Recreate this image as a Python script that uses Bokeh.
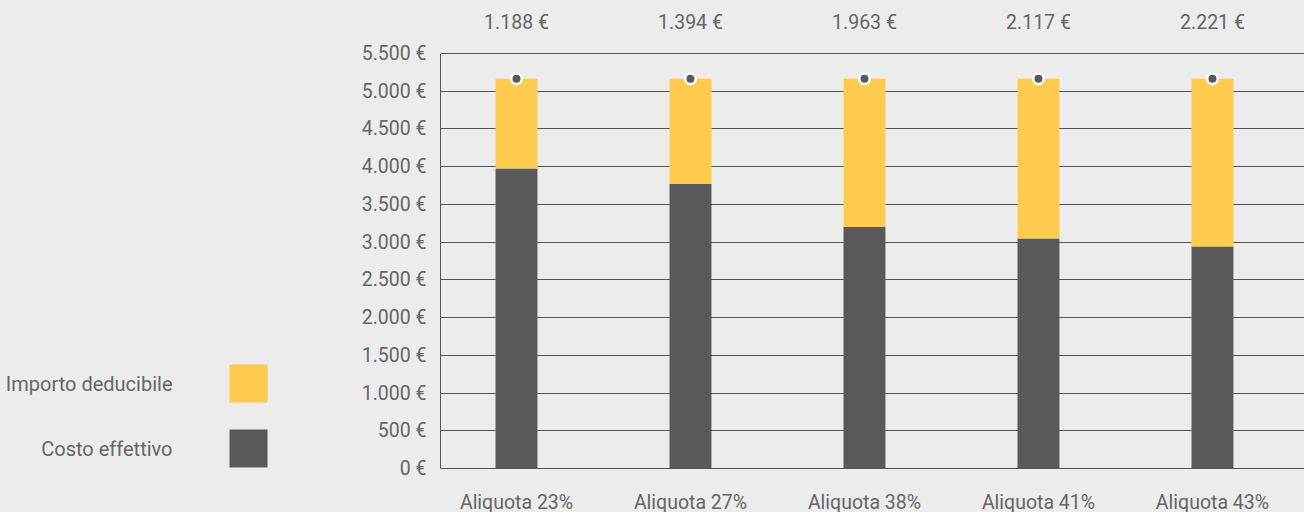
from bokeh.plotting import figure
from bokeh.layouts import row
from bokeh.models import Range1d, FixedTicker, ColumnDataSource
from bokeh.core.properties import value
from bokeh.embed import file_html
from bokeh.resources import INLINE

# ---- data ----
categories = ["Aliquota 23%", "Aliquota 27%", "Aliquota 38%", "Aliquota 41%", "Aliquota 43%"]
totale = [5165, 5165, 5165, 5165, 5165]
deducibile = [1188, 1394, 1963, 2117, 2221]
costo = [t - d for t, d in zip(totale, deducibile)]
series_names = ["Importo deducibile", "Costo effettivo"]
y_ticks = list(range(0, 5501, 500))

# ---- style ----
BG = "#ececec"
YELLOW = "#fecb4e"
DARK = "#58595b"
TXT = "#666666"
GRID = "#555555"
FONT = "Roboto"
FS = "19.5px"
FS_LEG = "20px"
H = 516
BOTTOM = 48

def fmt(v):
    return f"{v:,}".replace(",", ".") + " €"

xs = list(range(len(categories)))
src = ColumnDataSource(dict(
    x=xs, costo=costo, deducibile=deducibile, totale=totale,
    label=[fmt(d) for d in deducibile],
))

p = figure(width=964, height=H, x_range=Range1d(-0.4368, 4.529), y_range=Range1d(0, 6203),
           output_backend="svg", toolbar_location=None,
           min_border_left=100, min_border_right=0, min_border_top=0, min_border_bottom=BOTTOM,
           background_fill_color=BG, border_fill_color=BG, outline_line_color=None)

p.vbar_stack(["costo", "deducibile"], x="x", width=0.241, color=[DARK, YELLOW],
             line_color=None, source=src)
p.scatter(x="x", y="totale", size=10.5, fill_color=DARK, line_color="white", line_width=2.5, source=src)

label_y = y_ticks[-1] + 411
p.text(x="x", y=label_y, text="label", source=src, text_align="center", text_baseline="middle",
       text_font=value(FONT), text_font_size=FS, text_color=TXT)

p.xaxis.ticker = FixedTicker(ticks=xs)
p.xaxis.major_label_overrides = {i: c for i, c in zip(xs, categories)}
p.yaxis.ticker = FixedTicker(ticks=y_ticks)
p.yaxis.major_label_overrides = {t: fmt(t) for t in y_ticks}
p.yaxis.bounds = (0, y_ticks[-1])
p.ygrid.ticker = FixedTicker(ticks=y_ticks)
p.xgrid.visible = False
p.ygrid.grid_line_color = GRID
p.ygrid.grid_line_width = 1
for ax in (p.xaxis, p.yaxis):
    ax.axis_line_color = GRID
    ax.axis_line_width = 1
    ax.major_tick_line_color = None
    ax.minor_tick_line_color = None
    ax.major_tick_out = 0
    ax.major_label_text_font = FONT
    ax.major_label_text_font_size = FS
    ax.major_label_text_color = TXT
p.yaxis.major_label_standoff = 14
p.xaxis.major_label_standoff = 22

# ---- legend panel ----
FRAME_H = H - BOTTOM
lf = figure(width=340, height=H, x_range=Range1d(0, 340), y_range=Range1d(FRAME_H, 0),
            output_backend="svg", toolbar_location=None, x_axis_type=None, y_axis_type=None,
            min_border_left=0, min_border_right=0, min_border_top=0, min_border_bottom=BOTTOM,
            background_fill_color=BG, border_fill_color=BG, outline_line_color=None)
lf.grid.visible = False
leg_y = [383 + 65 * i for i in range(len(series_names))]
lf.rect(x=248, y=leg_y, width=38, height=38, color=[YELLOW, DARK], line_color=None)
lf.text(x=172, y=leg_y, text=series_names, text_align="right", text_baseline="middle",
        text_font=value(FONT), text_font_size=FS_LEG, text_color=TXT)

layout = row(lf, p, spacing=0)
html = file_html(layout, INLINE)
html = html.replace("</head>", "<style>html,body{margin:0;padding:0;overflow:hidden;background:#ececec;}</style></head>", 1)
open("out.html", "w").write(html)
